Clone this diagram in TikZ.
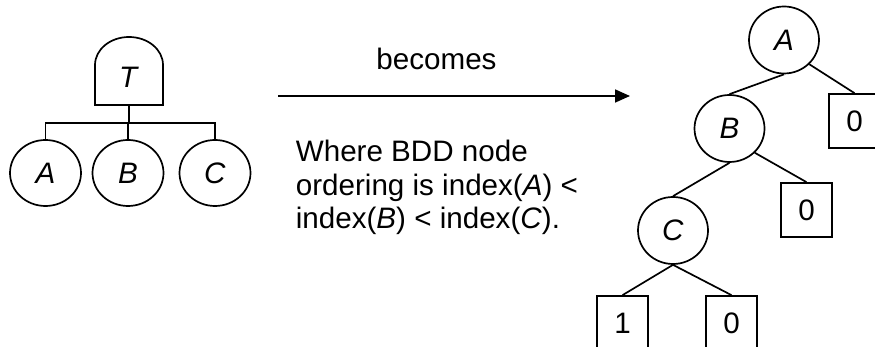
\documentclass[tikz,border=0pt]{standalone}
\usepackage{fontspec}
\setmainfont{Liberation Sans}
\usetikzlibrary{shapes.geometric,arrows.meta}
\def\eventnode{\node[ellipse,draw=black,minimum width=71pt,minimum height=66pt,inner sep=0pt]}
\def\bddnode{\node[ellipse,draw=black,minimum width=70pt,minimum height=67pt,inner sep=0pt]}
\def\leafnode{\node[rectangle,draw=black,minimum width=51pt,minimum height=54pt,inner sep=0pt]}
\def\drawgate{\draw[line join=miter]}

\begin{document}
\begin{tikzpicture}[x=1pt,y=1pt,line width=1.7pt,font=\fontsize{29.6}{33.5}\selectfont]
\useasboundingbox (0,0) rectangle (875,347);
\clip (0,0) rectangle (875,347);
% fault tree: gate T over the three basic events
\drawgate (95,242) -- (95,282) arc[start angle=180,end angle=0,x radius=34,y radius=28] -- (163,242) -- cycle;
\node (T) at (129,270) {\textit{T}};
\coordinate (gT) at (129,242);
\coordinate (bus) at (129,224);
\eventnode (eA) at (45.5,174) {\textit{A}};
\eventnode (eB) at (128,174) {\textit{B}};
\eventnode (eC) at (215,174) {\textit{C}};
\draw (gT) -- (bus);
\draw (eA.north) |- (bus);
\draw (eC.north) |- (bus);
\draw (bus -| eB.north) -- (eB.north);
% the arrow and its text
\coordinate (from) at (278,251);
\coordinate (to) at (630,251);
\draw[-{Triangle[length=15pt,width=13pt]}] (from) -- (to);
\node[anchor=base] (becomes) at (436.5,277) {becomes};
\node[anchor=base west,inner sep=0pt] (line1) at (295,185) {Where BDD node};
\node[anchor=base west,inner sep=0pt] (line2) at (295,151.5) {ordering is index(\textit{A}) <};
\node[anchor=base west,inner sep=0pt] (line3) at (295,118) {index(\textit{B}) < index(\textit{C}).};
% the BDD
\bddnode (nA) at (784,307) {\textit{A}};
\bddnode (nB) at (729.5,218.5) {\textit{B}};
\bddnode (nC) at (673,116.5) {\textit{C}};
\leafnode (zA) at (854.5,226) {0};
\leafnode (zB) at (806.5,137) {0};
\leafnode (one) at (622.5,24) {1};
\leafnode (zC) at (731.5,24) {0};
\draw (nA.south) -- (nB.north);
\draw (nA.south east) -- (zA.north);
\draw (nB.south) -- (nC.north);
\draw (nB.south east) -- (zB.north);
\draw (nC.south) -- (one.north);
\draw (nC.south) -- (zC.north);
\end{tikzpicture}
\end{document}
